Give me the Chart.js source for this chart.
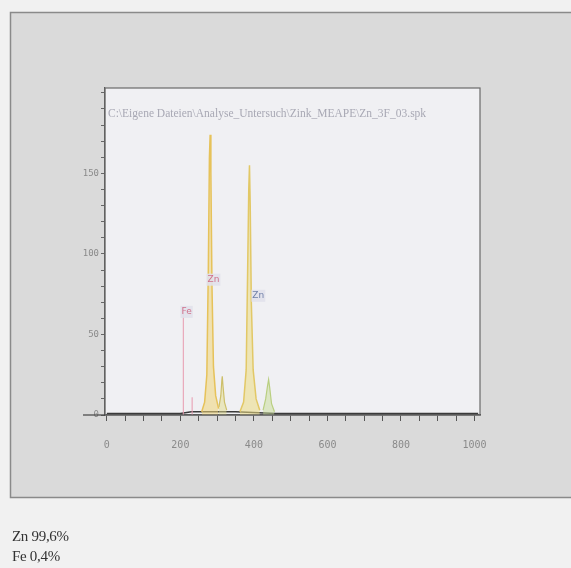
<!DOCTYPE html>
<html>
<head>
<meta charset="utf-8">
<script src="https://cdn.jsdelivr.net/npm/chart.js@4/dist/chart.umd.min.js"></script>
<style>
  body { margin: 0; background: #f1f1f1; }
  #wrap { position: relative; width: 571px; height: 568px; }
  #spec { position: absolute; left: 0; top: 0; }
  .res { position: absolute; left: 12px; font: 15px "Liberation Serif", serif; color: #333; letter-spacing: -0.3px; }
</style>
</head>
<body>
<div id="wrap">
  <canvas id="spec" width="571" height="568"></canvas>
  <div class="res" style="top:528px">Zn 99,6%</div>
  <div class="res" style="top:548px">Fe 0,4%</div>
</div>
<script>
// spectrum (channel, counts)
const baseChannels = [0, 50, 100, 150, 200, 230, 250, 300, 350, 460, 550, 650, 750, 850, 950, 1010];
const baseCounts = [1, 1, 1, 1, 1, 2, 2, 2, 2, 1, 1, 1, 1, 1, 1, 1];

const znAChannels = [258, 266, 272, 276, 279, 281, 283, 286, 290, 296, 304];
const znACounts = [2, 8, 25, 90, 160, 174, 150, 80, 30, 12, 4];

const znBChannels = [305, 310, 313, 314, 316, 320, 326];
const znBCounts = [5, 12, 22, 24, 18, 8, 3];

const znCChannels = [362, 372, 379, 383, 386, 388, 390, 393, 398, 406, 416];
const znCCounts = [2, 8, 28, 90, 140, 155, 130, 70, 28, 10, 3];

const znDChannels = [425, 432, 437, 440, 443, 448, 456];
const znDCounts = [3, 10, 18, 22, 17, 7, 2];

const feMarkers = [208, 232];
const feHeights = [67, 11];

const yTicks = [0, 50, 100, 150];
const xTicks = [0, 200, 400, 600, 800, 1000];

const peakLabels = [
    { text: "Zn", x: 290, y: 84, color: "#d0708a" },
    { text: "Zn", x: 412, y: 74, color: "#7080a8" },
    { text: "Fe", x: 217, y: 64, color: "#d0708a" },
];
const fileName = "C:\\Eigene Dateien\\Analyse_Untersuch\\Zink_MEAPE\\Zn_3F_03.spk";

function pts(xs, ys) {
    return xs.map((x, i) => ({ x: x, y: ys[i] }));
}

const markerData = [];
feMarkers.forEach((x, i) => {
    markerData.push({ x: x, y: 0 }, { x: x, y: feHeights[i] }, { x: x, y: null });
});

const backdrop = {
    id: "backdrop",
    beforeDraw(chart) {
        const c = chart.ctx, a = chart.chartArea;
        c.save();
        c.fillStyle = "#dadada";
        c.fillRect(10, 12, 561, 486);
        c.strokeStyle = "#8a8a8a";
        c.lineWidth = 1.5;
        c.beginPath();
        c.moveTo(571, 12.5); c.lineTo(10.5, 12.5); c.lineTo(10.5, 497.5); c.lineTo(571, 497.5);
        c.stroke();
        c.fillStyle = "#f0f0f3";
        c.fillRect(a.left, a.top, a.right - a.left, a.bottom - a.top);
        c.restore();
    },
    afterDraw(chart) {
        const c = chart.ctx, a = chart.chartArea;
        const xs = chart.scales.x, ys = chart.scales.y;
        c.save();
        c.strokeStyle = "#6a6a6a";
        c.lineWidth = 1.2;
        c.strokeRect(a.left, a.top, a.right - a.left, a.bottom - a.top);
        // x axis extends left past the y axis
        c.strokeStyle = "#444";
        c.beginPath();
        c.moveTo(a.left - 22, a.bottom); c.lineTo(a.left, a.bottom);
        c.stroke();
        c.font = "11.5px 'Liberation Serif', serif";
        c.fillStyle = "#a8a8b4";
        c.textBaseline = "top";
        c.fillText(fileName, a.left + 3, a.top + 20);
        c.font = "9px 'DejaVu Sans', sans-serif";
        c.textBaseline = "middle";
        peakLabels.forEach(p => {
            const px = xs.getPixelForValue(p.x), py = ys.getPixelForValue(p.y);
            const w = c.measureText(p.text).width;
            c.fillStyle = "rgba(225,225,235,0.9)";
            c.fillRect(px - w / 2 - 1, py - 6, w + 2, 12);
            c.fillStyle = p.color;
            c.textAlign = "center";
            c.fillText(p.text, px, py);
        });
        c.restore();
    }
};

new Chart(document.getElementById("spec"), {
    type: "line",
    data: {
        datasets: [
            {
                data: pts(znAChannels, znACounts),
                borderColor: "#e6c25a", backgroundColor: "rgba(240,214,120,0.55)",
                fill: "origin", borderWidth: 1.5,
            },
            {
                data: pts(znBChannels, znBCounts),
                borderColor: "#cdbf6a", backgroundColor: "rgba(225,220,140,0.5)",
                fill: "origin", borderWidth: 1.2,
            },
            {
                data: pts(znCChannels, znCCounts),
                borderColor: "#e2c866", backgroundColor: "rgba(236,220,130,0.55)",
                fill: "origin", borderWidth: 1.5,
            },
            {
                data: pts(znDChannels, znDCounts),
                borderColor: "#b9cf80", backgroundColor: "rgba(200,220,150,0.5)",
                fill: "origin", borderWidth: 1.2,
            },
            {
                data: markerData,
                borderColor: "#e89aae", borderWidth: 1, spanGaps: false,
            },
            {
                data: pts(baseChannels, baseCounts),
                borderColor: "#3a3a3a", borderWidth: 1.5,
            },
        ],
    },
    options: {
        responsive: false,
        animation: false,
        layout: { padding: { left: 75, top: 88, right: 91, bottom: 113 } },
        elements: { point: { radius: 0 }, line: { tension: 0 } },
        plugins: { legend: { display: false }, tooltip: { enabled: false } },
        scales: {
            x: {
                type: "linear", min: -5, max: 1015,
                afterFit: s => { s.height = 40; },
                afterBuildTicks: s => { s.ticks = []; for (let v = 0; v <= 1000; v += 50) s.ticks.push({ value: v }); },
                border: { display: true, color: "#444", width: 1.5 },
                grid: { drawOnChartArea: false, tickLength: 6, color: "#555" },
                ticks: {
                    padding: 18, color: "#8a8a8a", autoSkip: false, maxRotation: 0,
                    font: { family: "DejaVu Sans Mono", size: 10 },
                    callback: v => xTicks.includes(v) ? String(v) : "",
                },
            },
            y: {
                type: "linear", min: 0, max: 203,
                afterFit: s => { s.width = 30; },
                afterBuildTicks: s => { s.ticks = []; for (let v = 0; v <= 200; v += 10) s.ticks.push({ value: v }); },
                border: { display: true, color: "#555", width: 1.2 },
                grid: { drawOnChartArea: false, tickLength: 4, color: "#666" },
                ticks: {
                    padding: 2, color: "#8a8a8a", autoSkip: false,
                    font: { family: "DejaVu Sans Mono", size: 9 },
                    callback: v => yTicks.includes(v) ? String(v) : "",
                },
            },
        },
    },
    plugins: [backdrop],
});
</script>
</body>
</html>
